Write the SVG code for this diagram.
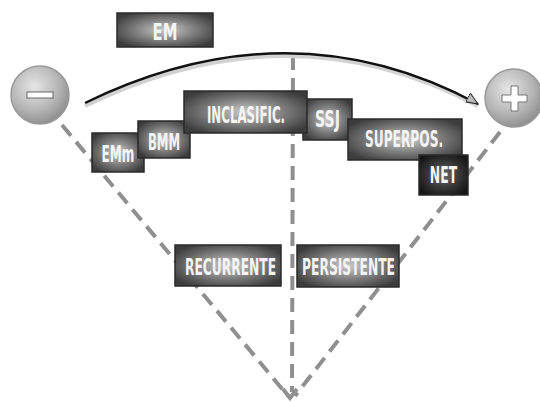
<svg xmlns="http://www.w3.org/2000/svg" width="540" height="402" viewBox="0 0 540 402">
<style>
.box{stroke:#2a2a2a;stroke-width:1.5}
.lbl{font-family:"Liberation Sans Narrow","DejaVu Sans Condensed","Liberation Sans",sans-serif;font-weight:bold;font-size:23px;fill:#f4f4f4;text-anchor:middle}
.dash{stroke:#8f8f8f;stroke-width:4;stroke-dasharray:14 8;fill:none}
</style>
<defs>
<radialGradient id="g" cx="0.5" cy="0.5" r="0.6">
<stop offset="0" stop-color="#cccccc"/>
<stop offset="0.55" stop-color="#7a7a7a"/>
<stop offset="1" stop-color="#3c3c3c"/>
</radialGradient>
<radialGradient id="gd" cx="0.5" cy="0.5" r="0.6">
<stop offset="0" stop-color="#6a6a6a"/>
<stop offset="0.6" stop-color="#333"/>
<stop offset="1" stop-color="#151515"/>
</radialGradient>
<radialGradient id="gc" cx="0.4" cy="0.35" r="0.7">
<stop offset="0" stop-color="#e6e6e6"/>
<stop offset="0.6" stop-color="#b5b5b5"/>
<stop offset="1" stop-color="#8a8a8a"/>
</radialGradient>
<marker id="ah" markerWidth="16" markerHeight="14" refX="12" refY="7" orient="auto" markerUnits="userSpaceOnUse">
<path d="M0,1 L12,7 L0,11 Z" fill="#bbb" stroke="#222" stroke-width="1"/>
</marker>
</defs>
<g id="connectors">
<line class="dash" x1="293" y1="56" x2="292" y2="392"/>
<line class="dash" x1="62" y1="125" x2="288" y2="396"/>
<line class="dash" x1="500" y1="132" x2="295" y2="396"/>
<path d="M283,389 L290,398 L297,389" fill="none" stroke="#8f8f8f" stroke-width="4"/>
<path d="M85,106 Q290,6 478,106" fill="none" stroke="#d2d2d2" stroke-width="4"/>
<path d="M85,103 Q290,3 478,104" fill="none" stroke="#111" stroke-width="2.5" marker-end="url(#ah)"/>
</g>
<g id="minus">
<circle cx="40" cy="95" r="29" fill="url(#gc)" stroke="#999" stroke-width="1.5"/>
<rect x="27" y="92" width="26" height="6" fill="#fff" stroke="#666" stroke-width="1"/>
</g>
<g id="plus">
<circle cx="514" cy="98" r="29" fill="url(#gc)" stroke="#999" stroke-width="1.5"/>
<path d="M511,86 h7 v9 h9 v7 h-9 v9 h-7 v-9 h-9 v-7 h9 z" fill="#fff" stroke="#777" stroke-width="1"/>
</g>
<g id="em">
<rect class="box" x="117" y="13" width="96" height="34" fill="url(#g)"/>
<text class="lbl" transform="translate(165,40) scale(0.62,1)" textLength="40" lengthAdjust="spacingAndGlyphs">EM</text>
</g>
<g id="emm">
<rect class="box" x="92" y="133" width="52" height="39" fill="url(#g)"/>
<text class="lbl" transform="translate(118,162) scale(0.62,1)" textLength="53" lengthAdjust="spacingAndGlyphs">EMm</text>
</g>
<g id="bmm">
<rect class="box" x="138" y="121" width="52" height="37" fill="url(#g)"/>
<text class="lbl" transform="translate(164,150) scale(0.62,1)" textLength="52" lengthAdjust="spacingAndGlyphs">BMM</text>
</g>
<g id="ssj">
<rect class="box" x="303" y="99" width="49" height="41" fill="url(#g)"/>
<text class="lbl" transform="translate(327.5,127) scale(0.62,1)" textLength="40" lengthAdjust="spacingAndGlyphs">SSJ</text>
</g>
<g id="inclasific">
<rect class="box" x="184" y="91" width="123" height="42" fill="url(#g)"/>
<text class="lbl" transform="translate(246,123) scale(0.62,1)" textLength="126" lengthAdjust="spacingAndGlyphs">INCLASIFIC.</text>
</g>
<g id="superpos">
<rect class="box" x="348" y="119" width="114" height="41" fill="url(#g)"/>
<text class="lbl" transform="translate(404,147) scale(0.62,1)" textLength="126" lengthAdjust="spacingAndGlyphs">SUPERPOS.</text>
</g>
<g id="net">
<rect class="box" x="419" y="155" width="49" height="40" fill="url(#gd)"/>
<text class="lbl" transform="translate(443.5,183) scale(0.62,1)" textLength="44" lengthAdjust="spacingAndGlyphs">NET</text>
</g>
<g id="recurrente">
<rect class="box" x="175" y="245" width="106" height="41" fill="url(#g)"/>
<text class="lbl" transform="translate(230.5,275) scale(0.62,1)" textLength="147" lengthAdjust="spacingAndGlyphs">RECURRENTE</text>
</g>
<g id="persistente">
<rect class="box" x="297" y="245" width="102" height="42" fill="url(#g)"/>
<text class="lbl" transform="translate(348.5,275) scale(0.62,1)" textLength="150" lengthAdjust="spacingAndGlyphs">PERSISTENTE</text>
</g>
</svg>
